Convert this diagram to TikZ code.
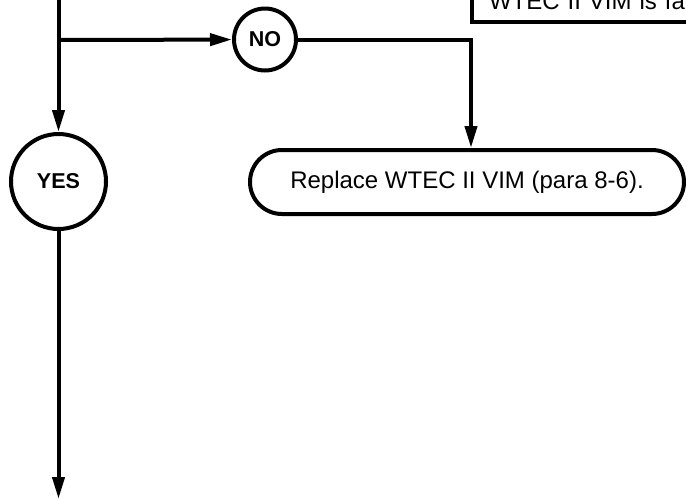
\documentclass[tikz,border=0pt]{standalone}
\usepackage{fontspec}
\setmainfont{Liberation Sans}
\usetikzlibrary{arrows.meta,shapes.misc}
\definecolor{flowblack}{RGB}{0,0,0}
\definecolor{flowwhite}{RGB}{255,255,255}

\begin{document}
\begin{tikzpicture}[x=1pt,y=-1pt,line width=4pt,
  answer/.style={circle,draw=flowblack,minimum size=#1,inner sep=0pt,font=\bfseries\fontsize{21.5}{26}\selectfont},
  action/.style={rounded rectangle,draw=flowblack,minimum width=434pt,minimum height=64pt,inner sep=0pt,font=\fontsize{24}{29}\selectfont},
  faultybox/.style={rectangle,draw=flowblack,outer sep=0pt,text width=230pt,align=left,inner xsep=17pt,inner ysep=12pt,font=\fontsize{24}{29}\selectfont},
  flow/.style={draw=flowblack,-{Triangle[length=22pt,width=12pt]}}] %Pixel units, y pointing down
\useasboundingbox[fill=flowwhite] (0,0) rectangle (686,499); %Page size of the cut-out
\clip (0,0) rectangle (686,499); %Crops the boxes running off the edge
%Nodes
\node[answer=95pt] (yes) at (58.5,181.5) {YES};
\node[answer=62pt] (no) at (265,39.5) {NO};
\node[action] (replace) at (467,182) {Replace WTEC II VIM (para 8-6).};
\node[faultybox,anchor=south west] (faulty) at (472,22) {WTEC II VIM is fa};
\coordinate (top) at (58.5,0); %Line coming in from above
\coordinate (branch) at (58.5,40);
\coordinate (bottom) at (58.5,499); %Line leaving below
%Connectors
\draw[flow] (top) -- (yes);
\draw[flow] (branch) -- (no);
\draw[flow] (no) -| ([xshift=4pt]replace.north);
\draw[flow] (yes) -- (bottom);
\end{tikzpicture}
\end{document}
